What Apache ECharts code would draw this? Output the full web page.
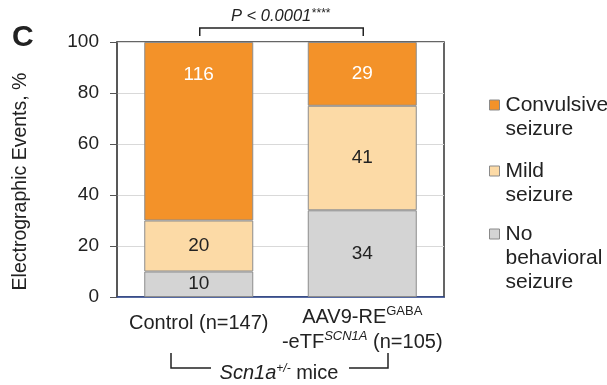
<!DOCTYPE html>
<html>
<head>
<meta charset="utf-8">
<script src="https://cdn.jsdelivr.net/npm/echarts@6/dist/echarts.min.js"></script>
<style>
html,body{margin:0;padding:0;background:#fff;}
#chart{width:607px;height:385px;}
</style>
</head>
<body>
<div id="chart"></div>
<script>
// ---- data ----
var categories = ['Control (n=147)', 'AAV9-RE-GABA-eTF-SCN1A (n=105)'];
var noBehavioral = [10, 34];     // % of events (bar heights)
var mildSeizure = [20, 41];
var convulsiveSeizure = [70, 25];
var noBehavioralN = [10, 34];    // counts shown in bars
var mildSeizureN = [20, 41];
var convulsiveSeizureN = [116, 29];
var yTicks = [0, 20, 40, 60, 80, 100];
var seriesNames = ['No behavioral seizure', 'Mild seizure', 'Convulsive seizure'];

var FONT = 'Liberation Sans, Arial, Helvetica, sans-serif';
var colors = { conv: '#F39229', mild: '#FCDAA6', none: '#D4D4D4' };

var chart = echarts.init(document.getElementById('chart'), null, { renderer: 'canvas' });

function labelCfg(color, counts) {
  return {
    show: true, position: 'inside', color: color, fontSize: 19, fontFamily: FONT,
    formatter: function (p) { return String(counts[p.dataIndex]); }
  };
}

var convData = convulsiveSeizure.map(function (v, i) {
  if (i === 0) return { value: v, label: { position: 'insideTop', distance: 23 } };
  return v;
});

function legendItem(name, top) {
  return {
    show: true, selectedMode: false, orient: 'vertical', left: 484, top: top,
    itemWidth: 10, itemHeight: 10,
    data: [name],
    icon: 'rect',
    itemStyle: { borderColor: '#8a8a8a', borderWidth: 1 },
    textStyle: { fontSize: 21, fontFamily: FONT, color: '#222', lineHeight: 24,
      rich: { t: { fontSize: 21, fontFamily: FONT, color: '#222', lineHeight: 24, padding: [0, 0, 0, 1] } } },
    formatter: function (n) {
      // blank leading lines keep the square level with the first text line
      if (n === 'Convulsive seizure') return '{t| }\n{t|Convulsive}\n{t|seizure}';
      if (n === 'Mild seizure') return '{t| }\n{t|Mild}\n{t|seizure}';
      return '{t| }\n{t| }\n{t|No}\n{t|behavioral}\n{t|seizure}';
    }
  };
}

var option = {
  animation: false,
  backgroundColor: '#fff',
  grid: { left: 117, right: 163, top: 42, bottom: 88, show: true, borderColor: '#333', borderWidth: 1.5, backgroundColor: 'transparent' },
  legend: [
    legendItem('Convulsive seizure', 64),
    legendItem('Mild seizure', 130),
    legendItem('No behavioral seizure', 169)
  ],
  xAxis: {
    type: 'category', data: categories,
    axisLine: { show: true, lineStyle: { color: '#2B4590', width: 1.5 } },
    axisTick: { show: false },
    axisLabel: {
      interval: 0, margin: 8, color: '#222', fontFamily: FONT,
      formatter: function (v, i) {
        if (i === 0) return '{c|Control (n=147)}';
        return '{a|AAV9-RE}{sup|GABA}\n{a|-eTF}{supi|SCN1A}{a| (n=105)}';
      },
      rich: {
        c: { fontSize: 20, fontFamily: FONT, color: '#222', lineHeight: 25, padding: [12, 0, 0, 0] },
        a: { fontSize: 20, fontFamily: FONT, color: '#222', lineHeight: 25 },
        sup: { fontSize: 13, fontFamily: FONT, color: '#222', lineHeight: 25, verticalAlign: 'top' },
        supi: { fontSize: 13, fontFamily: FONT, fontStyle: 'italic', color: '#222', lineHeight: 25, verticalAlign: 'top' }
      }
    }
  },
  yAxis: {
    type: 'value', min: 0, max: 100, interval: 20,
    name: 'Electrographic Events, %', nameLocation: 'middle', nameGap: 86,
    nameTextStyle: { fontSize: 19.5, fontFamily: FONT, color: '#222', padding: [0, 24, 0, 0] },
    axisLine: { show: true, lineStyle: { color: '#555', width: 1.5 } },
    axisTick: { show: true, inside: false, length: 7, lineStyle: { color: '#555' } },
    axisLabel: { margin: 18, fontSize: 19, fontFamily: FONT, color: '#222',
      formatter: function (v) { return yTicks.indexOf(v) >= 0 ? String(v) : ''; } },
    splitLine: { show: true, lineStyle: { color: '#d9d9d9', width: 1 } }
  },
  series: [
    { name: seriesNames[0], type: 'bar', stack: 's', data: noBehavioral, barWidth: 109,
      itemStyle: { color: colors.none, borderColor: '#8c8c8c', borderWidth: 1 },
      label: labelCfg('#222', noBehavioralN) },
    { name: seriesNames[1], type: 'bar', stack: 's', data: mildSeizure, barWidth: 109,
      itemStyle: { color: colors.mild, borderColor: '#8c8c8c', borderWidth: 1 },
      label: labelCfg('#222', mildSeizureN) },
    { name: seriesNames[2], type: 'bar', stack: 's', data: convData, barWidth: 109,
      itemStyle: { color: colors.conv, borderColor: '#8c8c8c', borderWidth: 1 },
      label: labelCfg('#fff', convulsiveSeizureN) }
  ]
};
chart.setOption(option);

// annotations positioned from the chart's own scales
var p0 = chart.convertToPixel({ gridIndex: 0 }, [0, 100]);
var p1 = chart.convertToPixel({ gridIndex: 0 }, [1, 100]);
var x0 = p0[0], x1 = p1[0];
var mid = (x0 + x1) / 2;
var lineStyle = { stroke: '#222', lineWidth: 1.5, fill: null };
chart.setOption({
  graphic: [
    { type: 'text', left: 12, top: 23, style: { text: 'C', font: 'bold 30px ' + FONT, fill: '#222' } },
    { type: 'polyline', shape: { points: [[x0 + 1, 36], [x0 + 1, 28], [x1 + 1, 28], [x1 + 1, 36]] }, style: lineStyle },
    { type: 'text', x: mid, y: 16, style: {
        text: '{p|P < 0.0001}{s|****}', align: 'center', verticalAlign: 'middle',
        rich: { p: { font: 'italic 16.5px ' + FONT, fill: '#222' }, s: { font: 'italic 12px ' + FONT, fill: '#222', verticalAlign: 'top' } } } },
    { type: 'polyline', shape: { points: [[171, 353], [171, 368], [211, 368]] }, style: lineStyle },
    { type: 'polyline', shape: { points: [[349, 368], [388, 368], [388, 353]] }, style: lineStyle },
    { type: 'text', x: 279, y: 373, style: {
        text: '{i|Scn1a}{s|+/-}{r| mice}', align: 'center', verticalAlign: 'middle',
        rich: { i: { font: 'italic 20px ' + FONT, fill: '#222' }, s: { font: 'italic 12px ' + FONT, fill: '#222', verticalAlign: 'top' }, r: { font: '20px ' + FONT, fill: '#222' } } } }
  ]
});
</script>
</body>
</html>
